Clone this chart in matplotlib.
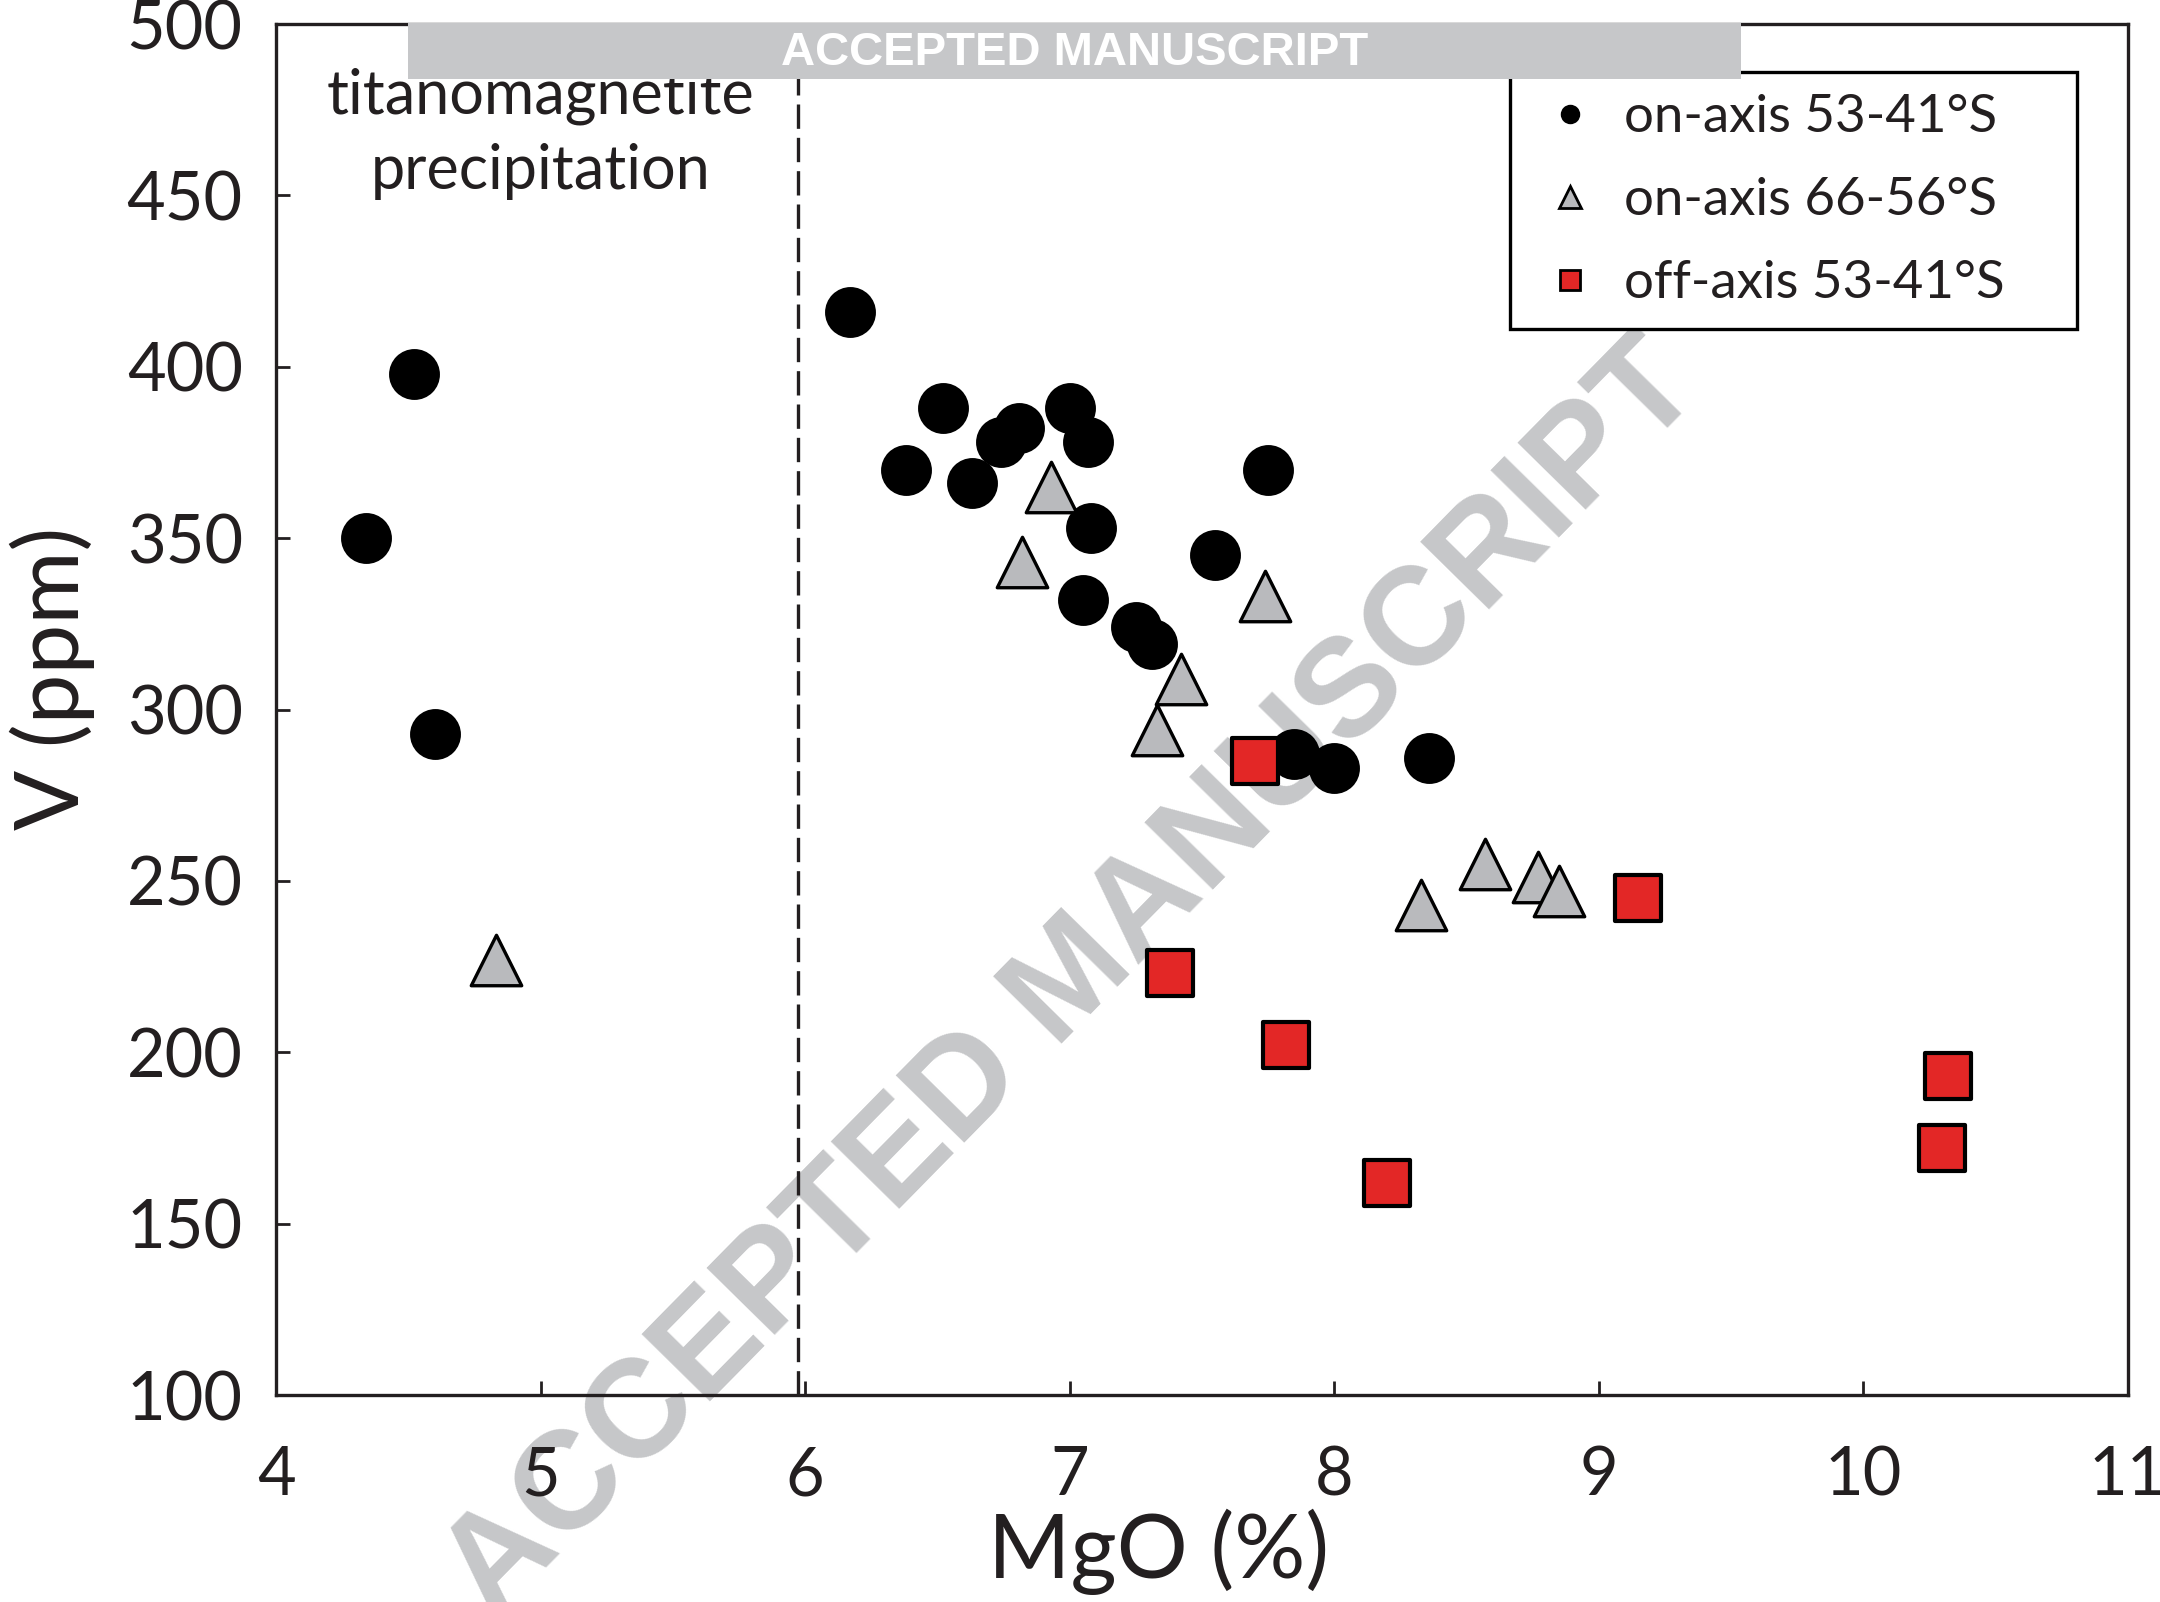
import matplotlib.pyplot as plt
from matplotlib.patches import Rectangle
from matplotlib.lines import Line2D

plt.rcParams['font.family'] = ['Lato', 'DejaVu Sans']

# on-axis 53-41°S
on53_mgo = [4.34, 4.52, 4.60, 6.17, 6.52, 6.38, 6.63, 6.74, 6.81, 7.00,
            7.07, 7.08, 7.05, 7.25, 7.31, 7.55, 7.75, 7.85, 8.00, 8.36]
on53_v = [350, 398, 293, 416, 388, 370, 366, 378, 382, 388,
          378, 353, 332, 324, 319, 345, 370, 287, 283, 286]

# on-axis 66-56°S
on66_mgo = [4.83, 6.93, 6.82, 7.74, 7.42, 7.33, 8.33, 8.57, 8.77, 8.85]
on66_v = [227, 365, 343, 333, 309, 294, 243, 255, 251, 247]

# off-axis 53-41°S
off53_mgo = [7.70, 7.38, 7.82, 8.20, 9.15, 10.32, 10.30]
off53_v = [285, 223, 202, 162, 245, 193, 172]

xticks = [4, 5, 6, 7, 8, 9, 10, 11]
yticks = [100, 150, 200, 250, 300, 350, 400, 450, 500]

fig = plt.figure(figsize=(10.8, 8.01), dpi=200)
ax = fig.add_axes([0.1278, 0.1292, 0.8572, 0.8558])

# watermark behind everything
ax.text(0.497, 0.388, 'ACCEPTED MANUSCRIPT', transform=fig.transFigure,
        ha='center', va='center', fontsize=50, fontweight='bold', color='#c6c7c9',
        rotation=45.5, family='Liberation Sans', zorder=0.5, clip_on=False)

ax.axvline(5.975, color='#231f20', lw=1.2, dashes=(7.3, 2.7), zorder=1)

ax.scatter(on53_mgo, on53_v, s=300, marker='o', color='black', zorder=3)
ax.scatter(on66_mgo, on66_v, s=330, marker='^', facecolor='#b9babd',
           edgecolor='black', linewidth=1.2, zorder=4)
ax.scatter(off53_mgo, off53_v, s=270, marker='s', facecolor='#e32726',
           edgecolor='black', linewidth=1.5, zorder=5)

ax.text(5.0, 468, 'titanomagnetite\nprecipitation', ha='center', va='center',
        fontsize=22, color='#231f20', linespacing=1.4)

ax.set_xlim(4, 11)
ax.set_ylim(100, 500)
ax.set_xticks(xticks)
ax.set_yticks(yticks)
ax.tick_params(direction='in', length=5, width=1, labelsize=24,
               colors='#231f20')
ax.tick_params(axis='x', pad=18)
ax.tick_params(axis='y', pad=12)
for sp in ax.spines.values():
    sp.set_linewidth(1.2)
    sp.set_color('#231f20')

ax.set_xlabel('MgO (%)', fontsize=32, color='#231f20')
ax.set_ylabel('V (ppm)', fontsize=32, color='#231f20')
ax.xaxis.set_label_coords(0.4766, -0.083, transform=ax.transAxes)
ax.yaxis.set_label_coords(-0.098, 0.523, transform=ax.transAxes)

handles = [
    Line2D([], [], ls='none', marker='o', ms=6, color='black'),
    Line2D([], [], ls='none', marker='^', ms=8, mfc='#b9babd', mec='black', mew=1),
    Line2D([], [], ls='none', marker='s', ms=7, mfc='#e32726', mec='black', mew=1),
]
leg = ax.legend(handles, ['on-axis 53-41°S', 'on-axis 66-56°S', 'off-axis 53-41°S'],
                loc='upper left', bbox_to_anchor=(0.6662, 0.784, 0.3063, 0.1809),
                mode='expand', fontsize=19,
                frameon=True, fancybox=False, edgecolor='black', framealpha=1,
                handletextpad=0.3, borderpad=0.42, labelspacing=0.68,
                handlelength=1.45, borderaxespad=0)
leg.get_frame().set_linewidth(1.2)
for t in leg.get_texts():
    t.set_color('#231f20')

# top banner
fig.patches.append(Rectangle((0.189, 0.9507), 0.617, 0.035, transform=fig.transFigure,
                             facecolor='#c6c7c9', edgecolor='none', zorder=10))
fig.text(0.4975, 0.967, 'ACCEPTED MANUSCRIPT', ha='center', va='center',
         fontsize=17, fontweight='bold', color='white', family='Liberation Sans',
         zorder=11)

fig.savefig('out.png', dpi=200)
